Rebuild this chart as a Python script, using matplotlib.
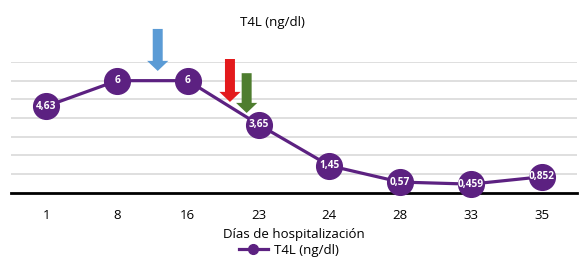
import matplotlib.pyplot as plt
from matplotlib.patches import FancyArrow

plt.rcParams['font.family'] = ['Open Sans', 'DejaVu Sans']

# --- Data ---
days = ['1', '8', '16', '23', '24', '28', '33', '35']
t4l = [4.63, 6, 6, 3.65, 1.45, 0.57, 0.459, 0.852]
labels = ['4,63', '6', '6', '3,65', '1,45', '0,57', '0,459', '0,852']

PURPLE = '#5c2181'

fig = plt.figure(figsize=(5.84, 2.62), dpi=100)
ax = fig.add_axes([0.0188, 0.2645, 0.9692, 0.4989])

x = list(range(len(days)))
ax.plot(x, t4l, color=PURPLE, lw=2.3, marker='o', ms=18.5, zorder=3,
        clip_on=False)
for xi, yi, lab in zip(x, t4l, labels):
    ax.text(xi, yi, lab, color='white', fontsize=7.3, fontweight='bold',
            ha='center', va='center', zorder=4)

ax.set_xlim(-0.5, len(days) - 0.5)
ax.set_ylim(0, 7)
ax.set_yticks(range(1, 8))
ax.yaxis.grid(True, color='#d9d9d9', lw=1.2)
ax.set_axisbelow(True)
ax.tick_params(axis='y', left=False, labelleft=False)
ax.set_xticks(x)
ax.set_xticklabels(days, fontsize=9.5)
ax.tick_params(axis='x', length=0, pad=12)
for s in ['top', 'right', 'left']:
    ax.spines[s].set_visible(False)
ax.spines['bottom'].set_linewidth(2)
ax.set_xlabel('Días de hospitalización', fontsize=9.5, labelpad=4)

# --- Marker arrows (x center, top, tip, color) ---
arrows = [(1.574, 8.77, 6.52, '#5b9bd5'),
          (2.595, 7.16, 4.86, '#e31a1c'),
          (2.831, 6.40, 4.27, '#4e7d2f')]
for ax_x, top, tip, col in arrows:
    ax.add_patch(FancyArrow(ax_x, top, 0, tip - top, width=0.141,
                            head_width=0.30, head_length=0.54,
                            length_includes_head=True, color=col,
                            lw=0, clip_on=False, zorder=5))

fig.text(0.467, 0.915, 'T4L (ng/dl)', fontsize=9.5, ha='center', va='center')

line, = ax.plot([], [], color=PURPLE, lw=2.3, marker='o', ms=7)
fig.legend([line], ['T4L (ng/dl)'], loc='center', bbox_to_anchor=(0.495, 0.045),
           frameon=False, fontsize=9.5, handlelength=2.2, handletextpad=0.5)

fig.savefig('out.png', dpi=100)
